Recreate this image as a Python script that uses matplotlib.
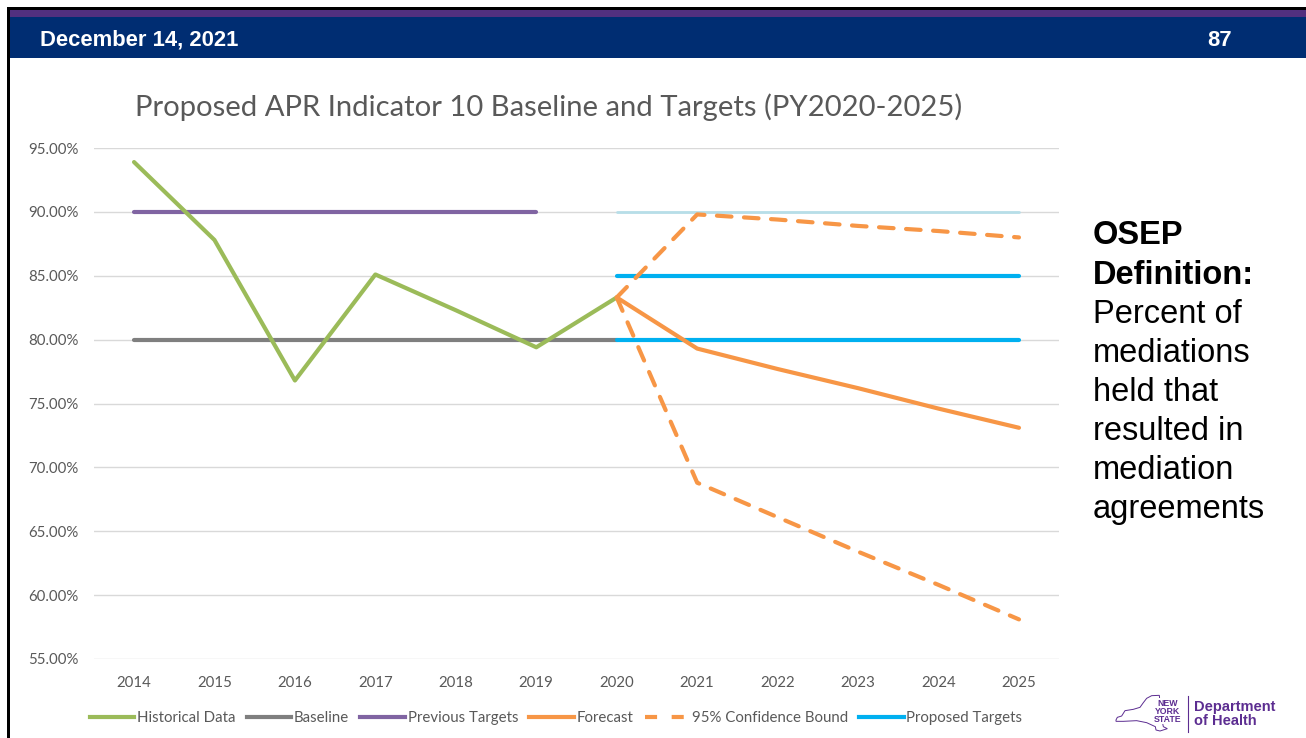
import matplotlib
matplotlib.use("Agg")
import matplotlib.pyplot as plt
from matplotlib.patches import Rectangle, Polygon
from matplotlib.lines import Line2D

# ---------------- data ----------------
years = [2014, 2015, 2016, 2017, 2018, 2019, 2020, 2021, 2022, 2023, 2024, 2025]
hist_years = [2014, 2015, 2016, 2017, 2018, 2019, 2020]
historical = [93.9, 87.8, 76.8, 85.1, 82.3, 79.4, 83.3]
baseline_years = [2014, 2020]
baseline = [80.0, 80.0]
prev_years = [2014, 2019]
previous_targets = [90.0, 90.0]
fc_years = [2020, 2021, 2022, 2023, 2024, 2025]
forecast = [83.3, 79.3, 77.7, 76.2, 74.6, 73.1]
upper_bound = [83.3, 89.8, 89.4, 88.9, 88.5, 88.0]
lower_bound = [83.3, 68.8, 66.1, 63.4, 60.8, 58.1]
prop_years = [2020, 2025]
proposed_high = [85.0, 85.0]
proposed_low = [80.0, 80.0]
proposed_top = [90.0, 90.0]
yticks = [55, 60, 65, 70, 75, 80, 85, 90, 95]

title = "Proposed APR Indicator 10 Baseline and Targets (PY2020-2025)"

W, H = 1306, 738
fig = plt.figure(figsize=(W / 100, H / 100), dpi=100)
fig.patch.set_facecolor("white")

def fx(px):
    return px / W

def fy(py):
    return 1 - py / H

# ---------------- slide frame ----------------
fig.patches.append(Rectangle((fx(7), 0), fx(3), fy(7), transform=fig.transFigure,
                             facecolor="black", edgecolor="none", zorder=0))
fig.patches.append(Rectangle((fx(7), fy(10)), 1, 3 / H, transform=fig.transFigure,
                             facecolor="black", edgecolor="none", zorder=0))
fig.patches.append(Rectangle((fx(10), fy(17)), 1, 7 / H, transform=fig.transFigure,
                             facecolor="#52307F", edgecolor="none", zorder=0))
fig.patches.append(Rectangle((fx(10), fy(58)), 1, 41 / H, transform=fig.transFigure,
                             facecolor="#002D72", edgecolor="none", zorder=0))
fig.text(fx(40), fy(40), "December 14, 2021", color="white", fontsize=15.8,
         fontweight="bold", family="Liberation Sans", ha="left", va="center")
fig.text(fx(1232), fy(40), "87", color="white", fontsize=15.8,
         fontweight="bold", family="Liberation Sans", ha="right", va="center")

# ---------------- chart ----------------
ax = fig.add_axes([fx(93.8), fy(659), fx(1059.2) - fx(93.8), fy(148) - fy(659)])
ax.set_facecolor("white")
ax.set_xlim(2013.5, 2025.5)
ax.set_ylim(55, 95)
ax.set_yticks(yticks)
ax.set_yticklabels([f"{v:.2f}%" for v in yticks])
ax.set_xticks(years)
ax.set_xticklabels([str(y) for y in years])
ax.grid(axis="y", color="#D9D9D9", linewidth=1.0)
ax.set_axisbelow(True)
for s in ax.spines.values():
    s.set_visible(False)
ax.tick_params(axis="both", length=0, labelsize=10.8, labelcolor="#595959")
ax.tick_params(axis="y", pad=11)
ax.tick_params(axis="x", pad=12)
for lab in ax.get_xticklabels() + ax.get_yticklabels():
    lab.set_family("Lato")

lw = 3.0
green = "#9BBB59"
gray = "#7F7F7F"
purple = "#8064A2"
orange = "#F79646"
blue = "#00B0F0"
lightblue = "#B7DEE8"

ax.plot(prop_years, proposed_top, color=lightblue, lw=2, solid_capstyle="round", zorder=2)
ax.plot(baseline_years, baseline, color=gray, lw=lw, solid_capstyle="round", label="Baseline", zorder=3)
ax.plot(prev_years, previous_targets, color=purple, lw=lw, solid_capstyle="round", label="Previous Targets", zorder=3)
ax.plot(prop_years, proposed_high, color=blue, lw=lw, solid_capstyle="round", label="Proposed Targets", zorder=3)
ax.plot(prop_years, proposed_low, color=blue, lw=lw, solid_capstyle="round", zorder=3)
ax.plot(hist_years, historical, color=green, lw=lw, solid_capstyle="round", label="Historical Data", zorder=4)
ax.plot(fc_years, forecast, color=orange, lw=lw, solid_capstyle="round", label="Forecast", zorder=4)
ax.plot(fc_years, upper_bound, color=orange, lw=lw, dashes=(3.5, 3), dash_capstyle="round",
        label="95% Confidence Bound", zorder=4)
ax.plot(fc_years, lower_bound, color=orange, lw=lw, dashes=(3.5, 3), dash_capstyle="round", zorder=4)

fig.text(fx(549), fy(107), title, ha="center", va="center", fontsize=21.1,
         color="#595959", family="Lato")

handles = [
    Line2D([], [], color=green, lw=lw),
    Line2D([], [], color=gray, lw=lw),
    Line2D([], [], color=purple, lw=lw),
    Line2D([], [], color=orange, lw=lw),
    Line2D([], [], color=orange, lw=lw, dashes=(2.9, 3.5)),
    Line2D([], [], color=blue, lw=lw),
]
labels = ["Historical Data", "Baseline", "Previous Targets", "Forecast",
          "95% Confidence Bound", "Proposed Targets"]
leg = fig.legend(handles, labels, loc="center", bbox_to_anchor=(fx(556), fy(718)),
                 ncol=6, frameon=False, handlelength=2.95, handletextpad=0.2,
                 columnspacing=0.75, prop={"family": "Lato", "size": 10.8})
for t in leg.get_texts():
    t.set_color("#595959")

# ---------------- right-hand definition ----------------
lines_bold = ["OSEP", "Definition:"]
lines_norm = ["Percent of", "mediations", "held that", "resulted in", "mediation", "agreements"]
y0 = 236
step = 39.1
for i, s in enumerate(lines_bold + lines_norm):
    fig.text(fx(1093), fy(y0 + i * step), s, ha="left", va="center", fontsize=23.5,
             family="Liberation Sans", fontweight="bold" if i < 2 else "normal", color="black")

# ---------------- logo ----------------
logo_purple = "#5C2D91"
outline_px = [(108, 120), (112, 112), (125, 108), (135, 92), (160, 88), (180, 82), (190, 68),
              (200, 55), (215, 47), (238, 46), (240, 70), (245, 100), (248, 130), (250, 140),
              (262, 146), (240, 153), (228, 150), (226, 140), (200, 128), (170, 122),
              (130, 124), (108, 124)]
outline = [(fx(1080 + a / 3), fy(680 + b / 3)) for a, b in outline_px]
fig.patches.append(Polygon(outline, closed=True, transform=fig.transFigure, facecolor="none",
                           edgecolor=logo_purple, lw=0.7))
for i, s in enumerate(["NEW", "YORK", "STATE"]):
    fig.text(fx(1168), fy(703 + i * 8), s, ha="center", va="center", fontsize=6.3,
             fontweight="bold", family="Liberation Sans", color=logo_purple,
             bbox=dict(facecolor="white", edgecolor="none", pad=0.2))
fig.add_artist(Line2D([fx(1188), fx(1188)], [fy(696), fy(732)], transform=fig.transFigure,
                      color=logo_purple, lw=0.8))
fig.text(fx(1194), fy(707), "Department", ha="left", va="center", fontsize=10.5,
         fontweight="bold", family="Liberation Sans", color=logo_purple)
fig.text(fx(1194), fy(721), "of Health", ha="left", va="center", fontsize=10.5,
         fontweight="bold", family="Liberation Sans", color=logo_purple)

fig.savefig("out.png", dpi=100, facecolor="white")
